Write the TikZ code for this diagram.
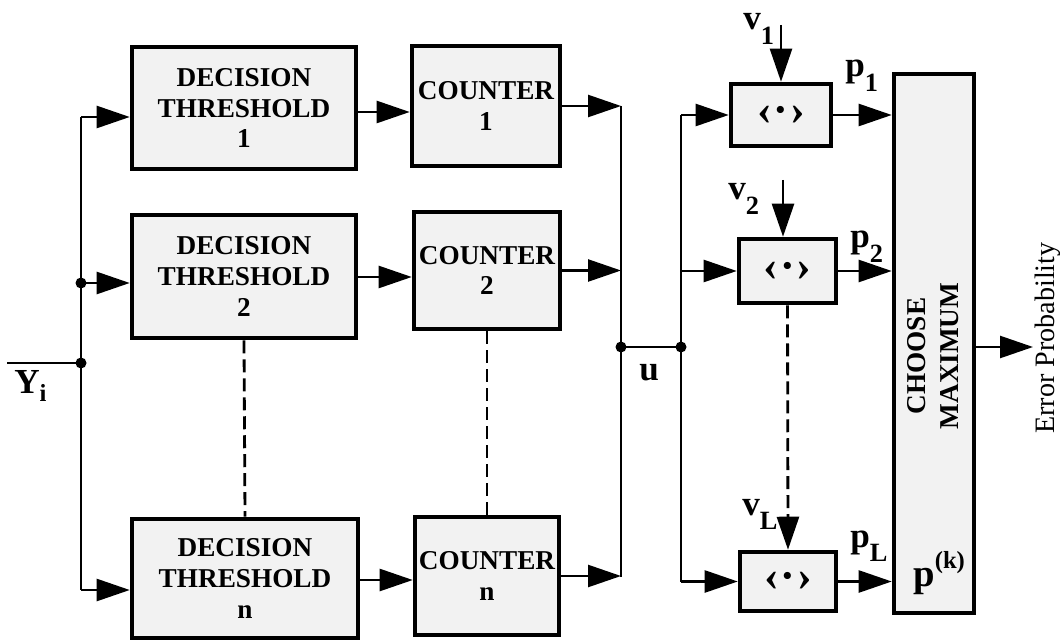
\documentclass[tikz,border=0pt]{standalone}
\usepackage{fontspec}
\setmainfont{Liberation Serif}
\usetikzlibrary{arrows.meta}
\definecolor{boxfill}{gray}{0.95}
\newcommand{\sbs}[1]{\raisebox{-8pt}{\fontsize{15}{15}\selectfont #1}}
\newcommand{\sps}[1]{\raisebox{10pt}{\fontsize{14}{14}\selectfont #1}}
\newcommand{\avg}{‹\kern1pt·\kern1pt›}
\begin{document}
\begin{tikzpicture}[x=0.02cm,y=-0.02cm,
  blk/.style={draw, line width=2.6pt, fill=boxfill, align=center, inner sep=0pt,
    font=\bfseries\fontsize{15.5}{17.6}\selectfont},
  avgblk/.style={blk, font=\bfseries\fontsize{25}{25}\selectfont},
  wire/.style={line width=1.4pt},
  tip/.style={-{Triangle[length=0.66cm,width=0.44cm]}},
  arr/.style={wire, tip},
  dsh/.style={line width=1.6pt, dash pattern=on 0.26cm off 0.12cm},
  lbl/.style={inner sep=0pt, anchor=base west, font=\bfseries\fontsize{20}{20}\selectfont},
  dot/.style={circle, fill=black, inner sep=0pt, minimum size=0.22cm}]
\useasboundingbox (0,0) rectangle (1060,641);

% decision thresholds
\node[blk, minimum width=4.48cm, minimum height=2.44cm] (dt1) at (244,108) {DECISION\\THRESHOLD\\1};
\node[blk, minimum width=4.48cm, minimum height=2.46cm] (dt2) at (244,276.5) {DECISION\\THRESHOLD\\2};
\node[blk, minimum width=4.52cm, minimum height=2.38cm] (dtn) at (245,578.5) {DECISION\\THRESHOLD\\n};
% counters
\node[blk, minimum width=2.96cm, minimum height=2.40cm] (c1) at (486,106) {COUNTER\\1};
\node[blk, minimum width=2.92cm, minimum height=2.34cm] (c2) at (487,270.5) {COUNTER\\2};
\node[blk, minimum width=2.88cm, minimum height=2.36cm] (cn) at (487,576) {COUNTER\\n};
% averaging boxes
\node[avgblk, minimum width=2.00cm, minimum height=1.24cm] (b1) at (781,115) {\avg};
\node[avgblk, minimum width=1.94cm, minimum height=1.28cm] (b2) at (787.5,271) {\avg};
\node[avgblk, minimum width=1.92cm, minimum height=1.18cm] (bl) at (788,581.5) {\avg};
% choose maximum
\node[blk, minimum width=1.60cm, minimum height=10.78cm] (cm) at (934,343.5) {};
\node[rotate=90, align=center, inner sep=0pt, font=\bfseries\fontsize{15.5}{18.5}\selectfont] (cmt) at (933,356) {CHOOSE\\MAXIMUM};

% input bus
\coordinate (yin) at (7,363);
\node[dot] (j0) at (81,363) {};
\node[dot] (j1) at (81,283) {};
\coordinate (t1) at (81,117);
\coordinate (tn) at (81,590);
\draw[wire] (yin) -- (j0.center);
\draw[wire] (t1) -- (tn);
\draw[arr] (t1) -- (t1 -| dt1.west);
\draw[arr] (j1.center) -- (j1 -| dt2.west);
\draw[arr] (tn) -- (tn -| dtn.west);
\node[lbl] (ylab) at (14,393) {Y\raisebox{-5pt}{\fontsize{14}{14}\selectfont i}};

% thresholds -> counters
\coordinate (h1) at (0,112);
\coordinate (h2) at (0,277);
\coordinate (hn) at (0,580);
\draw[arr] (dt1.east |- h1) -- (c1.west |- h1);
\draw[arr] (dt2.east |- h2) -- (c2.west |- h2);
\draw[arr] (dtn.east |- hn) -- (cn.west |- hn);
\draw[dsh] (dt2.south) -- (dtn.north);
\draw[dsh] (c2.south) -- (cn.north);

% counters -> collector
\coordinate (k1) at (621,106);
\coordinate (kn) at (621,577);
\draw[wire] (k1) -- (kn);
\draw[arr] (c1.east) -- (c1.east -| k1);
\draw[arr] (c2.east) -- (c2.east -| k1);
\draw[arr] (cn.east) -- (cn.east -| k1);
\node[dot] (ja) at (621,347) {};
\node[dot] (jb) at (681,347) {};
\draw[wire] (ja.center) -- (jb.center);
\node[lbl] (ulab) at (639,380) {u};

% distribution bus
\coordinate (r1) at (681,115);
\coordinate (rn) at (681,581.5);
\draw[wire] (r1) -- (rn);
\draw[arr] (r1) -- (b1.west);
\draw[arr] (r1 |- b2.west) -- (b2.west);
\draw[arr] (rn) -- (bl.west);

% v inputs
\coordinate (v1s) at (781,25);
\coordinate (v2s) at (783,180);
\draw[arr] (v1s) -- (b1.north);
\draw[arr] (v2s) -- (b2.north -| v2s);
\draw[dsh, tip] (b2.south) -- (bl.north);
\node[lbl] (v1lab) at (743,30) {v\sbs{1}};
\node[lbl] (v2lab) at (728,200) {v\sbs{2}};
\node[lbl] (vllab) at (742,515) {v\sbs{L}};

% to choose maximum
\draw[arr] (b1.east) -- (b1.east -| cm.west);
\draw[arr] (b2.east) -- (b2.east -| cm.west);
\draw[arr] (bl.east) -- (bl.east -| cm.west);
\node[lbl] (p1lab) at (845,77) {p\sbs{1}};
\node[lbl] (p2lab) at (850,248) {p\sbs{2}};
\node[lbl] (pllab) at (850,547) {p\sbs{L}};
\node[lbl, font=\bfseries\fontsize{22}{22}\selectfont] (pklab) at (913,586) {p\sps{(k)}};

% output
\coordinate (eo) at (1033,347);
\draw[arr] (cm.east |- eo) -- (eo);
\node[rotate=90, inner sep=0pt, font=\fontsize{16}{16}\selectfont] (err) at (1048,338) {Error Probability};
\end{tikzpicture}
\end{document}
